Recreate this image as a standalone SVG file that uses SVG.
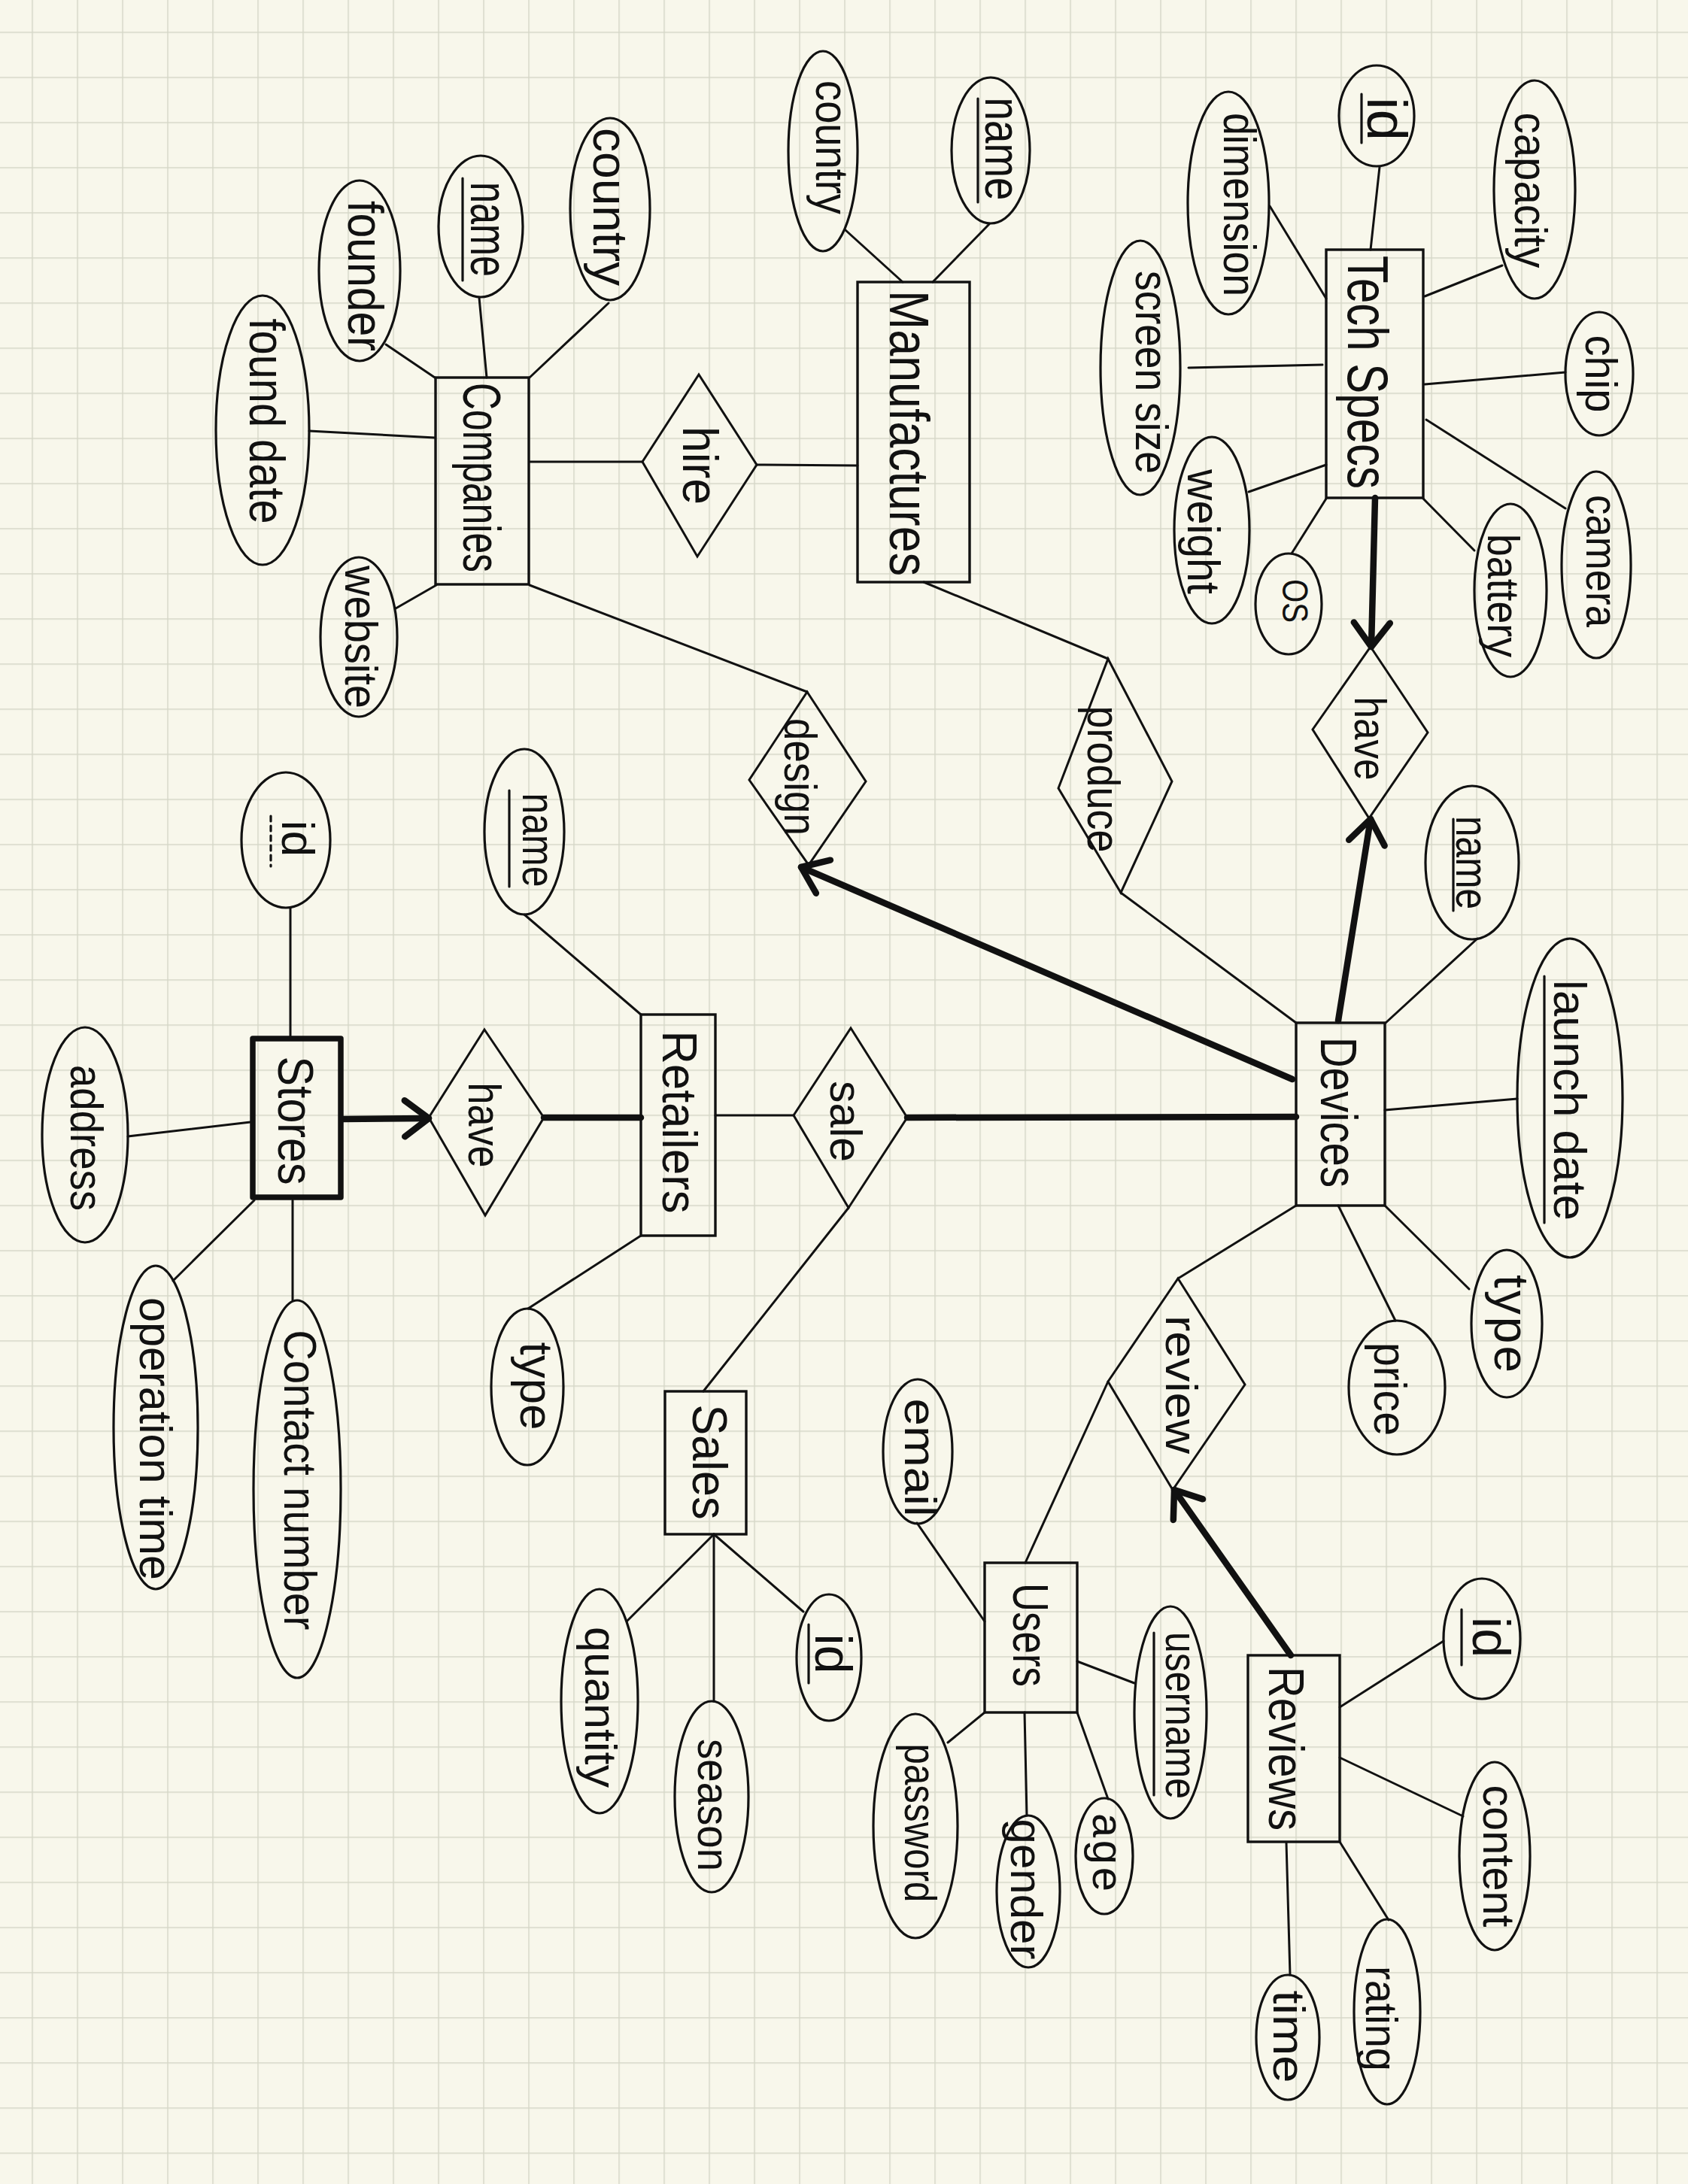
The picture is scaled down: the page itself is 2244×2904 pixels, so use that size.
<svg xmlns="http://www.w3.org/2000/svg" width="2244" height="2904" viewBox="0 0 2244 2904">
<defs>
<style>
.ln{stroke:#111;stroke-width:3;fill:none;stroke-linecap:round}
.thick{stroke-width:8.5}
.ent{fill:none;stroke:#111;stroke-width:3.4}
.weak{stroke-width:7.5;stroke-linejoin:round}
.rel{fill:none;stroke:#111;stroke-width:3;stroke-linejoin:miter}
.att{fill:none;stroke:#111;stroke-width:3.2}
.ul{stroke:#111;stroke-width:3.2;stroke-linecap:round;fill:none}
.dash{stroke-dasharray:7 6}
.t{font-family:"Liberation Sans",Arial,sans-serif;font-size:62px;fill:#111;text-anchor:middle}
</style>
<pattern id="grid" x="42.25" y="42.25" width="60" height="60" patternUnits="userSpaceOnUse">
<path d="M0 0.75H60M0.75 0V60" stroke="#d6d7c8" stroke-width="1.5" fill="none"/>
</pattern>
<marker id="chev" viewBox="-45 -35 55 70" refX="0" refY="0" markerWidth="55" markerHeight="70" markerUnits="userSpaceOnUse" orient="auto" overflow="visible">
<path d="M-32,-24 L0,0 L-32,24" fill="none" stroke="#111" stroke-width="8.5" stroke-linecap="round" stroke-linejoin="round"/>
</marker>
</defs>
<rect width="2244" height="2904" fill="#f8f7eb"/>
<rect width="2244" height="2904" fill="url(#grid)"/>

<g id="connectors">
<path class="ln" d="M637,396 L647,502"/>
<path class="ln" d="M513,458 L578,502"/>
<path class="ln" d="M809,403 L704,502"/>
<path class="ln" d="M411,573 L578,582"/>
<path class="ln" d="M526,809 L580,778"/>
<path class="ln" d="M704,614 L854,614"/>
<path class="ln" d="M1006,618 L1140,619"/>
<path class="ln" d="M704,778 L1073,920"/>
<path class="ln" d="M1124,306 L1200,375"/>
<path class="ln" d="M1315,298 L1240,375"/>
<path class="ln" d="M1228,774 L1473,876"/>
<path class="ln" d="M1490,1187 L1723,1360"/>
<path class="ln" d="M1834,222 L1822,332"/>
<path class="ln" d="M1997,353 L1894,394"/>
<path class="ln" d="M1688,274 L1763,397"/>
<path class="ln" d="M1580,489 L1758,485"/>
<path class="ln" d="M2081,495 L1894,511"/>
<path class="ln" d="M2081,676 L1896,558"/>
<path class="ln" d="M1960,732 L1892,663"/>
<path class="ln" d="M1660,654 L1763,618"/>
<path class="ln" d="M1717,736 L1763,663"/>
<path class="ln thick" d="M1828,662 L1823,860" marker-end="url(#chev)"/>
<path class="ln thick" d="M1779,1357 L1822,1089" marker-end="url(#chev)"/>
<path class="ln thick" d="M1718,1435 L1065,1153" marker-end="url(#chev)"/>
<path class="ln thick" d="M1206,1486 L1723,1485"/>
<path class="ln" d="M1841,1361 L1964,1248"/>
<path class="ln" d="M1841,1476 L2017,1461"/>
<path class="ln" d="M1841,1603 L1953,1714"/>
<path class="ln" d="M1779,1603 L1855,1756"/>
<path class="ln" d="M1723,1603 L1566,1700"/>
<path class="ln" d="M951,1483 L1055,1483"/>
<path class="ln" d="M1128,1606 L935,1850"/>
<path class="ln" d="M697,1216 L852,1349"/>
<path class="ln" d="M852,1643 L702,1740"/>
<path class="ln thick" d="M456,1488 L570,1487" marker-end="url(#chev)"/>
<path class="ln thick" d="M723,1486 L852,1486"/>
<path class="ln" d="M386,1207 L386,1378"/>
<path class="ln" d="M170,1511 L333,1492"/>
<path class="ln" d="M338,1596 L230,1703"/>
<path class="ln" d="M389,1596 L389,1729"/>
<path class="ln" d="M949,2040 L834,2155"/>
<path class="ln" d="M949,2040 L949,2262"/>
<path class="ln" d="M949,2040 L1068,2143"/>
<path class="ln" d="M1363,2078 L1473,1837"/>
<path class="ln" d="M1219,2025 L1309,2156"/>
<path class="ln" d="M1432,2209 L1508,2238"/>
<path class="ln" d="M1309,2277 L1260,2317"/>
<path class="ln" d="M1362,2277 L1365,2414"/>
<path class="ln" d="M1432,2277 L1473,2392"/>
<path class="ln thick" d="M1716,2201 L1561,1981" marker-end="url(#chev)"/>
<path class="ln" d="M1781,2270 L1919,2182"/>
<path class="ln" d="M1781,2337 L1945,2415"/>
<path class="ln" d="M1781,2449 L1846,2553"/>
<path class="ln" d="M1710,2450 L1715,2626"/>
</g>

<g id="companies">
<rect class="ent" x="579" y="502" width="124" height="275"/>
<text class="t" x="637" y="635" dy="0.3em" textLength="252" lengthAdjust="spacingAndGlyphs" transform="rotate(90 637 635)" style="font-size:70px">Companies</text>
</g>
<g id="companies-name">
<ellipse class="att" cx="639" cy="301" rx="56" ry="94"/>
<text class="t" x="647" y="305" dy="0.3em" textLength="126" lengthAdjust="spacingAndGlyphs" transform="rotate(90 647 305)" style="font-size:70px">name</text>
<path class="ul" d="M615,237 V373"/>
</g>
<g id="companies-founder">
<ellipse class="att" cx="478" cy="360" rx="54" ry="120"/>
<text class="t" x="483" y="367" dy="0.3em" textLength="200" lengthAdjust="spacingAndGlyphs" transform="rotate(90 483 367)" style="font-size:66px">founder</text>
</g>
<g id="companies-country">
<ellipse class="att" cx="811" cy="278" rx="53" ry="121"/>
<text class="t" x="808" y="275" dy="0.3em" textLength="210" lengthAdjust="spacingAndGlyphs" transform="rotate(90 808 275)" style="font-size:64px">country</text>
</g>
<g id="companies-found-date">
<ellipse class="att" cx="349" cy="572" rx="62" ry="179"/>
<text class="t" x="352" y="560" dy="0.3em" textLength="273" lengthAdjust="spacingAndGlyphs" transform="rotate(90 352 560)" style="font-size:66px">found date</text>
</g>
<g id="companies-website">
<ellipse class="att" cx="477" cy="847" rx="51" ry="106"/>
<text class="t" x="478" y="847" dy="0.3em" textLength="190" lengthAdjust="spacingAndGlyphs" transform="rotate(90 478 847)" style="font-size:62px">website</text>
</g>
<g id="hire">
<polygon class="rel" points="929,498 1006,618 927,740 854,614"/>
<text class="t" x="928" y="619" dy="0.3em" textLength="104" lengthAdjust="spacingAndGlyphs" transform="rotate(90 928 619)" style="font-size:66px">hire</text>
</g>

<g id="manufactures">
<rect class="ent" x="1140" y="375" width="149" height="399"/>
<text class="t" x="1205" y="576" dy="0.3em" textLength="380" lengthAdjust="spacingAndGlyphs" transform="rotate(90 1205 576)" style="font-size:74px">Manufactures</text>
</g>
<g id="manufactures-country">
<ellipse class="att" cx="1094" cy="201" rx="46" ry="133"/>
<text class="t" x="1104" y="196" dy="0.3em" textLength="178" lengthAdjust="spacingAndGlyphs" transform="rotate(90 1104 196)" style="font-size:62px">country</text>
</g>
<g id="manufactures-name">
<ellipse class="att" cx="1317" cy="200" rx="52" ry="97"/>
<text class="t" x="1330" y="198" dy="0.3em" textLength="137" lengthAdjust="spacingAndGlyphs" transform="rotate(90 1330 198)" style="font-size:66px">name</text>
<path class="ul" d="M1300,131 V269"/>
</g>

<g id="techspecs">
<rect class="ent" x="1763" y="332" width="129" height="330"/>
<text class="t" x="1815" y="495" dy="0.3em" textLength="310" lengthAdjust="spacingAndGlyphs" transform="rotate(90 1815 495)" style="font-size:76px">Tech Specs</text>
</g>
<g id="techspecs-id">
<ellipse class="att" cx="1830" cy="154" rx="50" ry="67"/>
<text class="t" x="1840" y="158" dy="0.3em" transform="rotate(90 1840 158)" style="font-size:74px">id</text>
<path class="ul" d="M1810,125 V190"/>
</g>
<g id="techspecs-capacity">
<ellipse class="att" cx="2040" cy="252" rx="54" ry="145"/>
<text class="t" x="2033" y="253" dy="0.3em" textLength="207" lengthAdjust="spacingAndGlyphs" transform="rotate(90 2033 253)" style="font-size:62px">capacity</text>
</g>
<g id="techspecs-dimension">
<ellipse class="att" cx="1633" cy="270" rx="54" ry="148"/>
<text class="t" x="1646" y="272" dy="0.3em" textLength="244" lengthAdjust="spacingAndGlyphs" transform="rotate(90 1646 272)" style="font-size:62px">dimension</text>
</g>
<g id="techspecs-screen-size">
<ellipse class="att" cx="1516" cy="489" rx="53" ry="169"/>
<text class="t" x="1529" y="495" dy="0.3em" textLength="270" lengthAdjust="spacingAndGlyphs" transform="rotate(90 1529 495)" style="font-size:62px">screen size</text>
</g>
<g id="techspecs-chip">
<ellipse class="att" cx="2126" cy="497" rx="45" ry="82"/>
<text class="t" x="2126" y="497" dy="0.3em" textLength="103" lengthAdjust="spacingAndGlyphs" transform="rotate(90 2126 497)" style="font-size:60px">chip</text>
</g>
<g id="techspecs-camera">
<ellipse class="att" cx="2122" cy="751" rx="46" ry="124"/>
<text class="t" x="2127" y="746" dy="0.3em" textLength="176" lengthAdjust="spacingAndGlyphs" transform="rotate(90 2127 746)" style="font-size:60px">camera</text>
</g>
<g id="techspecs-battery">
<ellipse class="att" cx="2008" cy="785" rx="48" ry="115"/>
<text class="t" x="1996" y="792" dy="0.3em" textLength="164" lengthAdjust="spacingAndGlyphs" transform="rotate(90 1996 792)" style="font-size:60px">battery</text>
</g>
<g id="techspecs-weight">
<ellipse class="att" cx="1611" cy="705" rx="50" ry="124"/>
<text class="t" x="1598" y="707" dy="0.3em" textLength="166" lengthAdjust="spacingAndGlyphs" transform="rotate(90 1598 707)" style="font-size:62px">weight</text>
</g>
<g id="techspecs-os">
<ellipse class="att" cx="1713" cy="803" rx="44" ry="67"/>
<text class="t" x="1721" y="799" dy="0.34em" textLength="58" lengthAdjust="spacingAndGlyphs" transform="rotate(90 1721 799)" style="font-size:48px">OS</text>
</g>
<g id="have-techspecs">
<polygon class="rel" points="1822,860 1898,974 1820,1088 1745,970"/>
<text class="t" x="1819" y="982" dy="0.3em" textLength="111" lengthAdjust="spacingAndGlyphs" transform="rotate(90 1819 982)" style="font-size:60px">have</text>
</g>
<g id="design">
<polygon class="rel" points="1073,920 1151,1039 1075,1150 996,1037"/>
<text class="t" x="1062" y="1033" dy="0.3em" textLength="156" lengthAdjust="spacingAndGlyphs" transform="rotate(90 1062 1033)" style="font-size:62px">design</text>
</g>
<g id="produce">
<polygon class="rel" points="1473,876 1558,1039 1490,1187 1407,1048"/>
<text class="t" x="1465" y="1036" dy="0.3em" textLength="195" lengthAdjust="spacingAndGlyphs" transform="rotate(90 1465 1036)" style="font-size:62px">produce</text>
</g>

<g id="devices">
<rect class="ent" x="1723" y="1360" width="118" height="243"/>
<text class="t" x="1776" y="1479" dy="0.3em" textLength="200" lengthAdjust="spacingAndGlyphs" transform="rotate(90 1776 1479)" style="font-size:68px">Devices</text>
</g>
<g id="devices-name">
<ellipse class="att" cx="1957" cy="1147" rx="62" ry="102"/>
<text class="t" x="1955" y="1147" dy="0.3em" textLength="124" lengthAdjust="spacingAndGlyphs" transform="rotate(90 1955 1147)" style="font-size:62px">name</text>
<path class="ul" d="M1932,1089 V1211"/>
</g>
<g id="devices-launch-date">
<ellipse class="att" cx="2087" cy="1460" rx="70" ry="212"/>
<text class="t" x="2085" y="1463" dy="0.3em" textLength="320" lengthAdjust="spacingAndGlyphs" transform="rotate(90 2085 1463)" style="font-size:62px">launch date</text>
<path class="ul" d="M2053,1298 V1626"/>
</g>
<g id="devices-type">
<ellipse class="att" cx="2003" cy="1760" rx="47" ry="98"/>
<text class="t" x="2006" y="1760" dy="0.3em" textLength="130" lengthAdjust="spacing" transform="rotate(90 2006 1760)" style="font-size:64px">type</text>
</g>
<g id="devices-price">
<ellipse class="att" cx="1857" cy="1845" rx="64" ry="89"/>
<text class="t" x="1846" y="1847" dy="0.3em" textLength="124" lengthAdjust="spacingAndGlyphs" transform="rotate(90 1846 1847)" style="font-size:62px">price</text>
</g>
<g id="sale">
<polygon class="rel" points="1131,1367 1206,1486 1128,1606 1055,1483"/>
<text class="t" x="1122" y="1491" dy="0.3em" textLength="108" lengthAdjust="spacingAndGlyphs" transform="rotate(90 1122 1491)" style="font-size:60px">sale</text>
</g>

<g id="retailers">
<rect class="ent" x="852" y="1349" width="99" height="294"/>
<text class="t" x="900" y="1492" dy="0.3em" textLength="243" lengthAdjust="spacingAndGlyphs" transform="rotate(90 900 1492)" style="font-size:64px">Retailers</text>
</g>
<g id="retailers-name">
<ellipse class="att" cx="697" cy="1106" rx="53" ry="110"/>
<text class="t" x="714" y="1117" dy="0.3em" textLength="125" lengthAdjust="spacingAndGlyphs" transform="rotate(90 714 1117)" style="font-size:62px">name</text>
<path class="ul" d="M677,1051 V1179"/>
</g>
<g id="retailers-type">
<ellipse class="att" cx="701" cy="1844" rx="48" ry="104"/>
<text class="t" x="711" y="1843" dy="0.3em" textLength="117" lengthAdjust="spacingAndGlyphs" transform="rotate(90 711 1843)" style="font-size:62px">type</text>
</g>
<g id="have-stores">
<polygon class="rel weak" points="644,1369 723,1486 645,1616 570,1486"/>
<text class="t" x="642" y="1496" dy="0.3em" textLength="113" lengthAdjust="spacingAndGlyphs" transform="rotate(90 642 1496)" style="font-size:62px">have</text>
</g>
<g id="stores">
<rect class="ent weak" x="336" y="1381" width="117" height="211"/>
<text class="t" x="390" y="1490" dy="0.3em" textLength="171" lengthAdjust="spacingAndGlyphs" transform="rotate(90 390 1490)" style="font-size:66px">Stores</text>
</g>
<g id="stores-id">
<ellipse class="att" cx="380" cy="1117" rx="59" ry="90"/>
<text class="t" x="394" y="1115" dy="0.3em" transform="rotate(90 394 1115)" style="font-size:62px">id</text>
<path class="ul dash" d="M360,1085 V1152"/>
</g>
<g id="stores-address">
<ellipse class="att" cx="113" cy="1509" rx="57" ry="143"/>
<text class="t" x="113" y="1513" dy="0.3em" textLength="194" lengthAdjust="spacingAndGlyphs" transform="rotate(90 113 1513)" style="font-size:62px">address</text>
</g>
<g id="stores-operation-time">
<ellipse class="att" cx="207" cy="1898" rx="56" ry="215"/>
<text class="t" x="205" y="1913" dy="0.3em" textLength="376" lengthAdjust="spacingAndGlyphs" transform="rotate(90 205 1913)" style="font-size:62px">operation time</text>
</g>
<g id="stores-contact-number">
<ellipse class="att" cx="395" cy="1980" rx="58" ry="251"/>
<text class="t" x="397" y="1968" dy="0.3em" textLength="399" lengthAdjust="spacingAndGlyphs" transform="rotate(90 397 1968)" style="font-size:62px">Contact number</text>
</g>

<g id="sales">
<rect class="ent" x="884" y="1850" width="108" height="190"/>
<text class="t" x="940" y="1944" dy="0.3em" textLength="153" lengthAdjust="spacingAndGlyphs" transform="rotate(90 940 1944)" style="font-size:64px">Sales</text>
</g>
<g id="sales-quantity">
<ellipse class="att" cx="797" cy="2262" rx="51" ry="149"/>
<text class="t" x="796" y="2270" dy="0.3em" textLength="214" lengthAdjust="spacingAndGlyphs" transform="rotate(90 796 2270)" style="font-size:60px">quantity</text>
</g>
<g id="sales-season">
<ellipse class="att" cx="946" cy="2389" rx="49" ry="127"/>
<text class="t" x="946" y="2400" dy="0.3em" textLength="176" lengthAdjust="spacingAndGlyphs" transform="rotate(90 946 2400)" style="font-size:60px">season</text>
</g>
<g id="sales-id">
<ellipse class="att" cx="1102" cy="2204" rx="43" ry="84"/>
<text class="t" x="1104" y="2199" dy="0.3em" transform="rotate(90 1104 2199)" style="font-size:68px">id</text>
<path class="ul" d="M1075,2160 V2238"/>
</g>

<g id="review">
<polygon class="rel" points="1566,1700 1655,1841 1559,1981 1473,1837"/>
<text class="t" x="1568" y="1841" dy="0.3em" textLength="184" lengthAdjust="spacingAndGlyphs" transform="rotate(90 1568 1841)" style="font-size:60px">review</text>
</g>
<g id="users">
<rect class="ent" x="1309" y="2078" width="123" height="199"/>
<text class="t" x="1367" y="2174" dy="0.3em" textLength="138" lengthAdjust="spacingAndGlyphs" transform="rotate(90 1367 2174)" style="font-size:66px">Users</text>
</g>
<g id="users-email">
<ellipse class="att" cx="1220" cy="1930" rx="46" ry="96"/>
<text class="t" x="1221" y="1938" dy="0.3em" textLength="157" lengthAdjust="spacingAndGlyphs" transform="rotate(90 1221 1938)" style="font-size:60px">email</text>
</g>
<g id="users-username">
<ellipse class="att" cx="1556" cy="2277" rx="48" ry="141"/>
<text class="t" x="1568" y="2281" dy="0.3em" textLength="222" lengthAdjust="spacingAndGlyphs" transform="rotate(90 1568 2281)" style="font-size:60px">username</text>
<path class="ul" d="M1534,2171 V2387"/>
</g>
<g id="users-password">
<ellipse class="att" cx="1217" cy="2428" rx="56" ry="149"/>
<text class="t" x="1221" y="2424" dy="0.3em" textLength="211" lengthAdjust="spacingAndGlyphs" transform="rotate(90 1221 2424)" style="font-size:60px">password</text>
</g>
<g id="users-gender">
<ellipse class="att" cx="1367" cy="2515" rx="42" ry="101"/>
<text class="t" x="1362" y="2512" dy="0.3em" textLength="187" lengthAdjust="spacingAndGlyphs" transform="rotate(90 1362 2512)" style="font-size:60px">gender</text>
</g>
<g id="users-age">
<ellipse class="att" cx="1468" cy="2468" rx="38" ry="77"/>
<text class="t" x="1470" y="2463" dy="0.3em" textLength="104" lengthAdjust="spacing" transform="rotate(90 1470 2463)" style="font-size:58px">age</text>
</g>
<g id="reviews">
<rect class="ent" x="1659" y="2201" width="122" height="248"/>
<text class="t" x="1707" y="2325" dy="0.3em" textLength="218" lengthAdjust="spacingAndGlyphs" transform="rotate(90 1707 2325)" style="font-size:66px">Reviews</text>
</g>
<g id="reviews-id">
<ellipse class="att" cx="1970" cy="2179" rx="51" ry="80"/>
<text class="t" x="1979" y="2177" dy="0.3em" transform="rotate(90 1979 2177)" style="font-size:70px">id</text>
<path class="ul" d="M1943,2140 V2214"/>
</g>
<g id="reviews-content">
<ellipse class="att" cx="1987" cy="2468" rx="47" ry="125"/>
<text class="t" x="1990" y="2468" dy="0.3em" textLength="189" lengthAdjust="spacingAndGlyphs" transform="rotate(90 1990 2468)" style="font-size:60px">content</text>
</g>
<g id="reviews-rating">
<ellipse class="att" cx="1844" cy="2675" rx="44" ry="123"/>
<text class="t" x="1834" y="2684" dy="0.3em" textLength="140" lengthAdjust="spacingAndGlyphs" transform="rotate(90 1834 2684)" style="font-size:60px">rating</text>
</g>
<g id="reviews-time">
<ellipse class="att" cx="1712" cy="2709" rx="42" ry="83"/>
<text class="t" x="1711" y="2708" dy="0.3em" textLength="123" lengthAdjust="spacingAndGlyphs" transform="rotate(90 1711 2708)" style="font-size:60px">time</text>
</g>
</svg>
